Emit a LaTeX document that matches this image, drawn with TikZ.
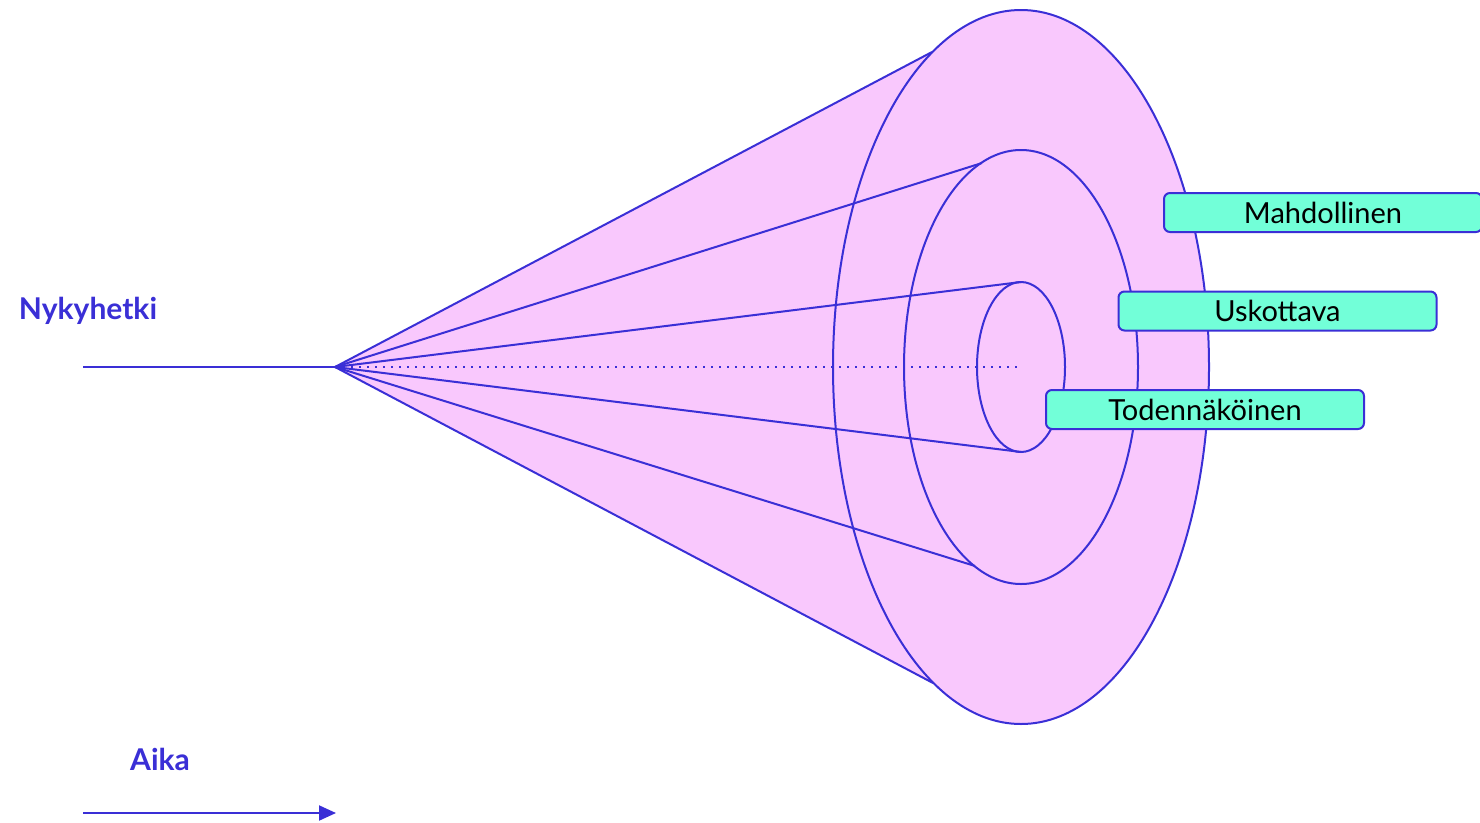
\documentclass[tikz,border=0pt]{standalone}
\usepackage{fontspec}
\setmainfont{Lato}
\usetikzlibrary{arrows.meta}
\definecolor{cblue}{HTML}{3A2FD6}
\definecolor{cpink}{HTML}{F9C8FD}
\definecolor{cgreen}{HTML}{72FFD8}
\tikzset{
  conel/.style={draw=cblue, line width=2pt},
  labelbox/.style={draw=cblue, fill=cgreen, line width=2pt, rounded corners=6pt,
    minimum width=318pt, minimum height=39pt, inner sep=0pt, font=\fontsize{29}{32}\selectfont, text=black},
  heading/.style={text=cblue, font=\bfseries\fontsize{30}{33}\selectfont, inner sep=0pt}
}
\begin{document}
\begin{tikzpicture}[x=1pt,y=-1pt]
\useasboundingbox (0,0) rectangle (1480,822);
% key points
\coordinate (apex) at (335,367);
\coordinate (start) at (83,367);
\coordinate (ctr) at (1021,367);
\coordinate (ot) at (932,52);
\coordinate (ob) at (933,683);
\coordinate (mt) at (982,163);
\coordinate (mb) at (975,566);
\coordinate (it) at (1021,282);
\coordinate (ib) at (1021,452);
\coordinate (dotend) at (1020,367);
% fill
\fill[cpink] (ctr) ellipse [x radius=188, y radius=357];
\fill[cpink] (apex) -- (ot) -- (ctr) -- (ob) -- cycle;
% time line and dotted axis
\draw[conel] (start) -- (apex);
\draw[cblue, line width=1.8pt, dash pattern=on 1.8pt off 6.2pt] (apex) -- (dotend);
% cone lines
\draw[conel] (apex) -- (ot);
\draw[conel] (apex) -- (ob);
\draw[conel] (apex) -- (mt);
\draw[conel] (apex) -- (mb);
\draw[conel] (apex) -- (it);
\draw[conel] (apex) -- (ib);
% ellipses
\draw[conel] (ctr) ellipse [x radius=188, y radius=357];
\draw[conel] (ctr) ellipse [x radius=117, y radius=217];
\draw[conel] (ctr) ellipse [x radius=44, y radius=85];
% labels
\node[labelbox] (mahd) at (1323,212.5) {Mahdollinen};
\node[labelbox] (usko) at (1277.5,311) {Uskottava};
\node[labelbox] (tode) at (1205,409.5) {Todennäköinen};
\node[heading] (nyky) at (88,311) {Nykyhetki};
\node[heading] (aika) at (160,759) {Aika};
% time arrow
\coordinate (a0) at (83,813);
\coordinate (a1) at (336,813);
\draw[cblue, line width=2pt, -{Triangle[length=17pt,width=15pt]}] (a0) -- (a1);
\end{tikzpicture}
\end{document}
